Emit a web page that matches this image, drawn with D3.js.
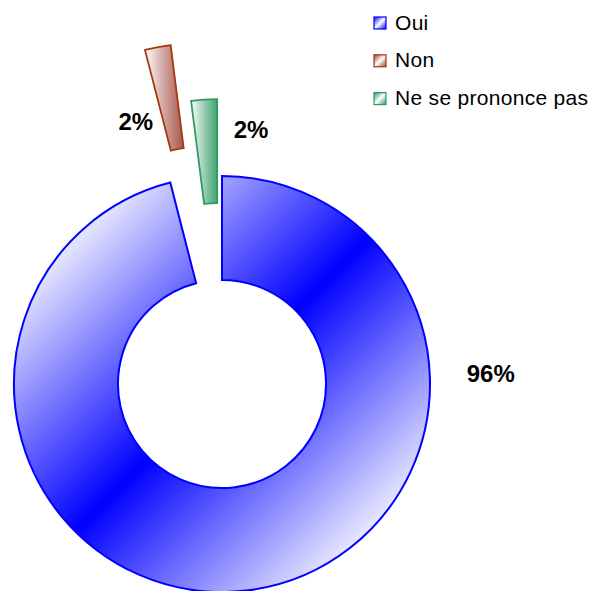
<!DOCTYPE html>
<html>
<head>
<meta charset="utf-8">
<script src="https://cdn.jsdelivr.net/npm/d3@7"></script>
<style>
  html, body { margin: 0; padding: 0; background: #fff; }
  svg { display: block; }
  text { font-family: "Liberation Sans", Arial, sans-serif; }
</style>
</head>
<body>
<svg id="chart" width="592" height="591"></svg>
<script>
// Survey answers (share of respondents, %)
const categories = ["Oui", "Non", "Ne se prononce pas"];
const values = [96, 2, 2];
const valueLabels = ["96%", "2%", "2%"];

// Styling per answer
const strokeColors = ["#0000ff", "#a33a0c", "#2f9a64"];
const darkColors = ["#0000ff", "#9a3b30", "#25945a"];
const lightColors = ["#ececff", "#ffffff", "#ffffff"];
const explode = [0, 135, 77];            // radial pull-out of each slice, px
const labelPolar = [[87.8, 269], [-18.2, 276], [6.5, 256]]; // [deg from top, radius]

const cx = 222, cy = 384, rOuter = 208, rInner = 104;

const svg = d3.select("#chart");
const defs = svg.append("defs");

// Main slice: reflected diagonal gradient, darkest across the centre
// (user space of the slice group, whose origin is the donut centre)
const gMain = defs.append("linearGradient")
  .attr("id", "grad0").attr("gradientUnits", "userSpaceOnUse")
  .attr("x1", -rOuter * 0.72).attr("y1", -rOuter * 0.72)
  .attr("x2", rOuter * 0.72).attr("y2", rOuter * 0.72);
gMain.append("stop").attr("offset", 0).attr("stop-color", lightColors[0]);
gMain.append("stop").attr("offset", 0.5).attr("stop-color", darkColors[0]);
gMain.append("stop").attr("offset", 1).attr("stop-color", lightColors[0]);

// Small slices: white on the left towards full colour on the right
[1, 2].forEach(i => {
  const g = defs.append("linearGradient").attr("id", "grad" + i)
    .attr("x1", 0).attr("y1", 0).attr("x2", 1).attr("y2", 0);
  g.append("stop").attr("offset", 0).attr("stop-color", lightColors[i]);
  g.append("stop").attr("offset", 1).attr("stop-color", darkColors[i]).attr("stop-opacity", 0.85);
});

// Legend swatches: diagonal gradient with a light band on the diagonal
categories.forEach((c, i) => {
  const g = defs.append("linearGradient").attr("id", "sw" + i)
    .attr("x1", 0).attr("y1", 0).attr("x2", 1).attr("y2", 1);
  g.append("stop").attr("offset", 0).attr("stop-color", darkColors[i]);
  g.append("stop").attr("offset", 0.5).attr("stop-color", "#ffffff");
  g.append("stop").attr("offset", 1).attr("stop-color", darkColors[i]);
});

const pie = d3.pie().sort(null).value(d => d).startAngle(0).endAngle(2 * Math.PI);
const arcs = pie(values);
const arc = d3.arc().innerRadius(rInner).outerRadius(rOuter);

const g = svg.append("g").attr("transform", `translate(${cx},${cy})`);

g.selectAll("path.slice").data(arcs).join("path")
  .attr("class", "slice")
  .attr("d", arc)
  .attr("transform", (d, i) => {
    const mid = (d.startAngle + d.endAngle) / 2;
    return `translate(${Math.sin(mid) * explode[i]},${-Math.cos(mid) * explode[i]})`;
  })
  .attr("fill", (d, i) => `url(#grad${i})`)
  .attr("stroke", (d, i) => strokeColors[i])
  .attr("stroke-width", (d, i) => i === 0 ? 2 : 1.8)
  .attr("stroke-linejoin", "miter");

// Value labels
g.selectAll("text.val").data(arcs).join("text")
  .attr("class", "val")
  .attr("x", (d, i) => Math.sin(labelPolar[i][0] * Math.PI / 180) * labelPolar[i][1])
  .attr("y", (d, i) => -Math.cos(labelPolar[i][0] * Math.PI / 180) * labelPolar[i][1])
  .attr("text-anchor", "middle")
  .attr("dominant-baseline", "central")
  .attr("font-size", 24)
  .attr("font-weight", "bold")
  .attr("fill", "#000")
  .text((d, i) => valueLabels[i]);

// Legend
const legend = svg.append("g").attr("transform", "translate(374,17)");
const rows = legend.selectAll("g").data(categories).join("g")
  .attr("transform", (d, i) => `translate(0,${i * 37.8})`);
rows.append("rect")
  .attr("width", 12).attr("height", 12)
  .attr("fill", (d, i) => `url(#sw${i})`)
  .attr("stroke", (d, i) => strokeColors[i]).attr("stroke-width", 1.2);
rows.append("text")
  .attr("x", 21).attr("y", 12.5)
  .attr("font-size", 21)
  .attr("letter-spacing", 0.3)
  .attr("fill", "#000")
  .text(d => d);
</script>
</body>
</html>
